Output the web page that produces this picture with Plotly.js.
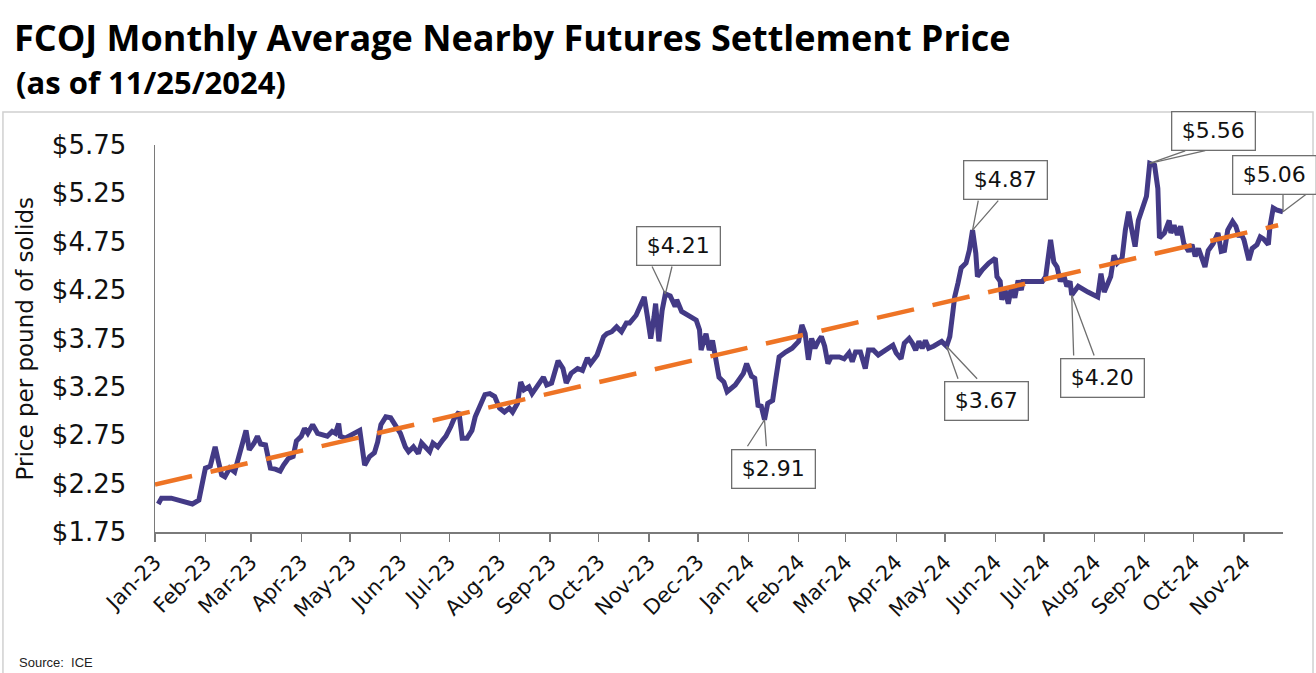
<!DOCTYPE html>
<html>
<head>
<meta charset="utf-8">
<script src="https://cdn.plot.ly/plotly-3.0.1.min.js"></script>
<style>
  html, body { margin: 0; padding: 0; background: #ffffff; }
  #chart { width: 1316px; height: 673px; }
</style>
</head>
<body>
<div id="chart"></div>
<script>
// ---- Data ----
const dates = [
 '2023-01-03','2023-01-05','2023-01-11','2023-01-15','2023-01-20','2023-01-24','2023-01-28','2023-01-30',
 '2023-02-01','2023-02-04','2023-02-07','2023-02-09','2023-02-11','2023-02-13','2023-02-16','2023-02-19','2023-02-22','2023-02-26','2023-02-28',
 '2023-03-03','2023-03-05','2023-03-07','2023-03-10','2023-03-12','2023-03-13','2023-03-16','2023-03-19','2023-03-21','2023-03-24','2023-03-27','2023-03-29',
 '2023-04-01','2023-04-03','2023-04-05','2023-04-08','2023-04-11','2023-04-14','2023-04-17','2023-04-20','2023-04-22','2023-04-24','2023-04-25','2023-04-28',
 '2023-05-01','2023-05-05','2023-05-07','2023-05-10','2023-05-13','2023-05-16','2023-05-18','2023-05-20','2023-05-23','2023-05-26','2023-05-28',
 '2023-06-01','2023-06-04','2023-06-06','2023-06-09','2023-06-12','2023-06-14','2023-06-17','2023-06-19','2023-06-21','2023-06-24','2023-06-27','2023-06-29',
 '2023-07-02','2023-07-04','2023-07-07','2023-07-09','2023-07-12','2023-07-15','2023-07-17','2023-07-20','2023-07-23','2023-07-26','2023-07-29',
 '2023-08-01','2023-08-04','2023-08-07','2023-08-09','2023-08-12','2023-08-14','2023-08-16','2023-08-19','2023-08-21','2023-08-24','2023-08-26','2023-08-28','2023-08-30',
 '2023-09-02','2023-09-06','2023-09-09','2023-09-11','2023-09-14','2023-09-18','2023-09-21','2023-09-24','2023-09-26','2023-09-30',
 '2023-10-04','2023-10-06','2023-10-09','2023-10-12','2023-10-15','2023-10-18','2023-10-20','2023-10-24','2023-10-27','2023-10-29','2023-10-31',
 '2023-11-02','2023-11-04','2023-11-05','2023-11-07','2023-11-09','2023-11-11','2023-11-14','2023-11-17','2023-11-18','2023-11-21','2023-11-25','2023-11-30',
 '2023-12-02','2023-12-03','2023-12-06','2023-12-08','2023-12-10','2023-12-12','2023-12-14','2023-12-17','2023-12-19','2023-12-24','2023-12-29','2023-12-31',
 '2024-01-03','2024-01-05','2024-01-07','2024-01-09','2024-01-11','2024-01-13','2024-01-16','2024-01-18','2024-01-20','2024-01-24','2024-01-28',
 '2024-02-01','2024-02-03','2024-02-05','2024-02-07','2024-02-09','2024-02-11','2024-02-13','2024-02-15','2024-02-17','2024-02-19','2024-02-21','2024-02-26','2024-02-29',
 '2024-03-03','2024-03-05','2024-03-07','2024-03-10','2024-03-13','2024-03-15','2024-03-18','2024-03-21','2024-03-26','2024-03-30',
 '2024-04-01','2024-04-04','2024-04-06','2024-04-09','2024-04-11','2024-04-13','2024-04-15','2024-04-17','2024-04-19','2024-04-21','2024-04-24','2024-04-29',
 '2024-05-02','2024-05-04','2024-05-06','2024-05-07','2024-05-09','2024-05-11','2024-05-14','2024-05-16','2024-05-18','2024-05-20','2024-05-21','2024-05-24','2024-05-28',
 '2024-06-01','2024-06-02','2024-06-04','2024-06-05','2024-06-07','2024-06-09','2024-06-11','2024-06-13','2024-06-15','2024-06-17','2024-06-18','2024-06-24','2024-06-30',
 '2024-07-02','2024-07-04','2024-07-05','2024-07-07','2024-07-09','2024-07-11','2024-07-13','2024-07-15','2024-07-17','2024-07-18','2024-07-22','2024-07-28',
 '2024-08-03','2024-08-05','2024-08-07','2024-08-11','2024-08-13','2024-08-15','2024-08-18','2024-08-20','2024-08-22','2024-08-24','2024-08-26','2024-08-28','2024-08-31',
 '2024-09-02','2024-09-04','2024-09-07','2024-09-09','2024-09-10','2024-09-13','2024-09-16','2024-09-17','2024-09-19','2024-09-21','2024-09-23','2024-09-25','2024-09-28','2024-09-30',
 '2024-10-02','2024-10-04','2024-10-06','2024-10-08','2024-10-10','2024-10-13','2024-10-16','2024-10-18','2024-10-20','2024-10-22','2024-10-25','2024-10-27','2024-10-29','2024-10-30',
 '2024-11-01','2024-11-03','2024-11-04','2024-11-06','2024-11-09','2024-11-11','2024-11-13','2024-11-16','2024-11-17','2024-11-19','2024-11-21','2024-11-25'
];
const prices = [
 2.04,2.10,2.10,2.08,2.05,2.04,2.08,2.22,
 2.41,2.43,2.63,2.48,2.34,2.32,2.41,2.37,2.56,2.80,2.60,
 2.67,2.74,2.66,2.65,2.51,2.41,2.40,2.38,2.44,2.51,2.53,2.69,
 2.74,2.82,2.77,2.86,2.77,2.75,2.74,2.79,2.77,2.87,2.74,2.72,
 2.75,2.79,2.80,2.44,2.53,2.57,2.68,2.86,2.94,2.93,2.87,
 2.77,2.63,2.58,2.63,2.56,2.67,2.62,2.58,2.67,2.63,2.70,2.74,
 2.84,2.92,2.99,2.72,2.72,2.80,2.94,3.05,3.17,3.18,3.15,
 3.03,2.99,3.03,2.99,3.08,3.30,3.22,3.25,3.18,3.25,3.29,3.35,3.27,
 3.29,3.52,3.44,3.29,3.39,3.44,3.42,3.55,3.49,3.58,
 3.77,3.80,3.82,3.87,3.82,3.91,3.91,3.99,4.11,4.18,3.97,
 3.75,3.97,4.11,3.72,4.04,4.21,4.19,4.08,4.15,4.03,3.99,3.94,
 3.84,3.63,3.80,3.63,3.73,3.56,3.35,3.30,3.20,3.27,3.39,3.49,
 3.36,3.34,3.06,3.05,2.91,3.08,3.11,3.34,3.56,3.61,3.65,
 3.72,3.89,3.80,3.53,3.75,3.65,3.72,3.77,3.67,3.49,3.56,3.56,3.54,
 3.60,3.51,3.61,3.61,3.44,3.63,3.63,3.58,3.63,3.68,
 3.60,3.54,3.70,3.75,3.70,3.63,3.72,3.65,3.73,3.65,3.67,3.72,
 3.67,3.77,4.04,4.18,4.32,4.48,4.53,4.66,4.87,4.63,4.39,4.46,4.53,
 4.58,4.39,4.34,4.15,4.25,4.11,4.29,4.17,4.35,4.25,4.34,4.34,4.34,
 4.39,4.66,4.77,4.54,4.49,4.34,4.41,4.29,4.34,4.20,4.29,4.23,
 4.18,4.42,4.23,4.39,4.61,4.53,4.58,4.87,5.06,4.87,4.70,4.97,5.13,
 5.22,5.56,5.54,5.30,4.79,4.84,4.97,4.84,4.92,4.82,4.91,4.73,4.65,4.72,
 4.60,4.68,4.60,4.49,4.66,4.73,4.84,4.65,4.66,4.87,4.96,4.91,4.80,4.84,
 4.77,4.65,4.56,4.68,4.72,4.80,4.78,4.72,4.91,5.10,5.08,5.06
];
// Linear trend end points
const trendDates = ['2023-01-01', '2024-11-22'];
const trendValues = [2.24, 4.92];
// Labelled call-outs
const calloutDates  = ['2023-11-11','2024-01-11','2024-05-02','2024-05-18','2024-07-18','2024-09-04','2024-11-25'];
const calloutValues = [4.21, 2.91, 3.67, 4.87, 4.20, 5.56, 5.06];
const calloutLabels = ['$4.21','$2.91','$3.67','$4.87','$4.20','$5.56','$5.06'];
const yTickValues = [1.75, 2.25, 2.75, 3.25, 3.75, 4.25, 4.75, 5.25, 5.75];

// ---- Call-out placement (pixel offsets: box centre, two wedge base points) ----
const calloutGeom = [
  {bx: 13,  by: -48, w: [[-14,-29],[7,-29]]},
  {bx: 9,   by: 49,  w: [[-18,28],[2,28]]},
  {bx: 40,  by: 55,  w: [[12,34],[32,34]]},
  {bx: 33,  by: -50, w: [[6,-31],[27,-31]]},
  {bx: 31,  by: 83,  w: [[2,62],[23,62]]},
  {bx: 64,  by: -32, w: [[37,-13],[57,-13]]},
  {bx: -9,  by: -37, w: [[0,-19],[25,-19]]}
];

const PURPLE = '#433A86';
const ORANGE = '#EE7425';
const GREY = '#6f6f6f';

const traces = [
  {
    x: dates, y: prices, type: 'scatter', mode: 'lines',
    line: {color: PURPLE, width: 5, shape: 'linear'},
    hoverinfo: 'x+y', showlegend: false
  },
  {
    x: trendDates, y: trendValues, type: 'scatter', mode: 'lines',
    line: {color: ORANGE, width: 4.5, dash: '38px,19px'},
    hoverinfo: 'skip', showlegend: false
  }
];

const annotations = [];
calloutLabels.forEach((lab, i) => {
  const g = calloutGeom[i];
  g.w.forEach(p => {
    annotations.push({
      x: calloutDates[i], y: calloutValues[i], xref: 'x', yref: 'y',
      text: '', showarrow: true, arrowhead: 0, arrowwidth: 1.3, arrowcolor: GREY,
      ax: p[0], ay: p[1], standoff: 0, startstandoff: 0
    });
  });
  annotations.push({
    x: calloutDates[i], y: calloutValues[i], xref: 'x', yref: 'y',
    text: lab, showarrow: false, xshift: g.bx, yshift: -g.by,
    font: {family: 'DejaVu Sans', size: 22, color: '#111111'},
    bgcolor: '#ffffff', bordercolor: GREY, borderwidth: 1.3, borderpad: 2,
    width: 78, height: 33, align: 'center', valign: 'middle'
  });
});

// subtitle, y-axis title and source
annotations.push({
  xref: 'paper', yref: 'paper', x: -0.125, y: 1.163, xanchor: 'left', yanchor: 'middle',
  text: '<b>(as of 11/25/2024)</b>', showarrow: false,
  font: {family: 'Open Sans', size: 31, color: '#000000'}
});
annotations.push({
  xref: 'paper', yref: 'paper', x: -0.1161, y: 0.5, xanchor: 'center', yanchor: 'middle',
  text: 'Price per pound of solids', textangle: -90, showarrow: false,
  font: {family: 'DejaVu Sans', size: 23, color: '#111111'}
});
annotations.push({
  xref: 'paper', yref: 'paper', x: -0.1225, y: -0.336, xanchor: 'left', yanchor: 'middle',
  text: 'Source:  ICE', showarrow: false,
  font: {family: 'Liberation Sans', size: 13, color: '#222222'}
});

const layout = {
  width: 1316, height: 673,
  margin: {l: 155, r: 33, t: 145, b: 141, pad: 0},
  paper_bgcolor: '#ffffff', plot_bgcolor: '#ffffff',
  title: {
    text: '<b>FCOJ Monthly Average Nearby Futures Settlement Price</b>',
    x: 0.0106, xanchor: 'left', xref: 'container',
    y: 0.943, yanchor: 'middle', yref: 'container',
    font: {family: 'Open Sans', size: 36, color: '#000000'}
  },
  xaxis: {
    type: 'date',
    range: ['2023-01-01', '2024-11-25'],
    tick0: '2023-01-01', dtick: 'M1', tickformat: '%b-%y',
    tickangle: -45,
    ticks: 'outside', ticklen: 8, tickwidth: 1.3, tickcolor: '#7a7a7a',
    showline: true, linecolor: '#7a7a7a', linewidth: 1.5,
    showgrid: false, zeroline: false,
    tickfont: {family: 'DejaVu Sans', size: 21, color: '#111111'}
  },
  yaxis: {
    range: [1.75, 5.75],
    tickvals: yTickValues,
    tickformat: '$.2f',
    ticks: '', ticklabelstandoff: 22,
    showline: true, linecolor: '#7a7a7a', linewidth: 1.5,
    showgrid: false, zeroline: false,
    tickfont: {family: 'DejaVu Sans', size: 26, color: '#111111'}
  },
  shapes: [
    {type: 'rect', xref: 'paper', yref: 'paper',
     x0: -0.1348, x1: 1.0266, y0: -0.37, y1: 1.085,
     line: {color: '#d0d0d0', width: 1.5}, fillcolor: 'rgba(0,0,0,0)', layer: 'below'}
  ],
  annotations: annotations,
  showlegend: false
};

Plotly.newPlot('chart', traces, layout, {displayModeBar: false, staticPlot: true});
</script>
</body>
</html>
